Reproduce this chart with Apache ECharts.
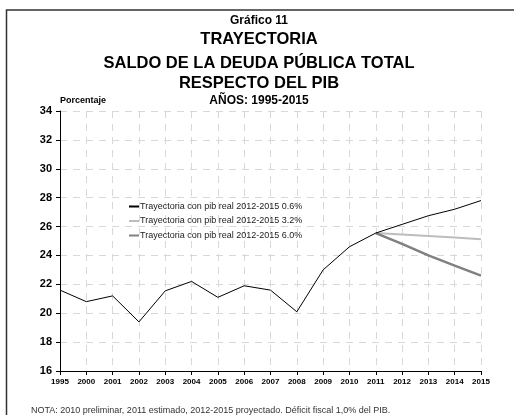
<!DOCTYPE html>
<html>
<head>
<meta charset="utf-8">
<script src="https://cdn.jsdelivr.net/npm/echarts@6/dist/echarts.min.js"></script>
<style>
  html, body { margin: 0; padding: 0; background: #fff; }
  #chart { width: 514px; height: 415px; }
</style>
</head>
<body>
<div id="chart"></div>
<script>
// years on the x axis
const years = ['1995', '2000', '2001', '2002', '2003', '2004', '2005', '2006', '2007', '2008',
  '2009', '2010', '2011', '2012', '2013', '2014', '2015']

// debt / GDP (%) trajectories
const pib06 = [21.6, 20.8, 21.2, 19.4, 21.55, 22.2, 21.1, 21.9, 21.6, 20.1,
  23.0, 24.6, 25.55, 26.15, 26.75, 27.2, 27.8]
const pib32 = [null, null, null, null, null, null, null, null, null, null,
  null, null, 25.55, 25.45, 25.35, 25.25, 25.12]
const pib60 = [null, null, null, null, null, null, null, null, null, null,
  null, null, 25.55, 24.8, 24.0, 23.3, 22.6]

const names = [
  'Trayectoria con pib real 2012-2015 0.6%',
  'Trayectoria con pib real 2012-2015 3.2%',
  'Trayectoria con pib real 2012-2015 6.0%'
]

const font = 'Liberation Sans, Arial, sans-serif'
const chart = echarts.init(document.getElementById('chart'))

const titleText = (text, y, size) => ({
  type: 'text',
  x: 259,
  y: y,
  style: {
    text: text,
    fill: '#000',
    font: 'bold ' + size + 'px ' + font,
    textAlign: 'center',
    textVerticalAlign: 'middle'
  }
})

const option = {
  animation: false,
  textStyle: { fontFamily: font },
  grid: { left: 60, right: 33, top: 111, bottom: 44 },
  legend: {
    orient: 'vertical',
    left: 124,
    top: 197,
    icon: 'rect',
    itemWidth: 10,
    itemHeight: 2,
    itemGap: 5.5,
    textStyle: { fontSize: 9, color: '#222', padding: [0, 0, 0, -4] },
    data: names
  },
  xAxis: {
    type: 'category',
    data: years,
    boundaryGap: false,
    axisLine: { lineStyle: { color: '#000', width: 1 } },
    axisTick: { length: 4, lineStyle: { color: '#000' } },
    axisLabel: { color: '#000', fontSize: 8, fontWeight: 'bold', margin: 7, interval: 0 },
    splitLine: { show: true, lineStyle: { color: '#d8d8d8', type: [7, 6] } }
  },
  yAxis: {
    type: 'value',
    min: 16,
    max: 34,
    interval: 2,
    axisLine: { show: true, lineStyle: { color: '#000', width: 1 } },
    axisTick: { show: true, length: 4, lineStyle: { color: '#000' } },
    axisLabel: { color: '#000', fontSize: 11, fontWeight: 'bold', margin: 8 },
    splitLine: { show: true, lineStyle: { color: '#d8d8d8', type: [7, 6] } }
  },
  series: [
    {
      name: names[0], type: 'line', data: pib06, symbol: 'none', z: 5,
      lineStyle: { color: '#000', width: 1 }, itemStyle: { color: '#000' }
    },
    {
      name: names[1], type: 'line', data: pib32, symbol: 'none', z: 3,
      lineStyle: { color: '#bdbdbd', width: 2 }, itemStyle: { color: '#bdbdbd' }
    },
    {
      name: names[2], type: 'line', data: pib60, symbol: 'none', z: 4,
      lineStyle: { color: '#808080', width: 2.5 }, itemStyle: { color: '#808080' }
    }
  ],
  graphic: [
    {
      type: 'rect',
      shape: { x: 6.5, y: 10, width: 600, height: 500 },
      style: { fill: 'none', stroke: '#333', lineWidth: 1.5 },
      z: -1
    },
    titleText('Gráfico 11', 21, 12),
    titleText('TRAYECTORIA', 39, 16.5),
    titleText('SALDO DE LA DEUDA PÚBLICA TOTAL', 63, 16.5),
    titleText('RESPECTO DEL PIB', 83, 16.5),
    titleText('AÑOS: 1995-2015', 101, 12),
    {
      type: 'text', x: 60, y: 101,
      style: { text: 'Porcentaje', fill: '#000', font: 'bold 9px ' + font, textVerticalAlign: 'middle' }
    },
    {
      type: 'text', x: 31, y: 406,
      style: {
        text: 'NOTA: 2010 preliminar, 2011 estimado, 2012-2015 proyectado. Déficit fiscal 1,0% del PIB.',
        fill: '#333', font: '9px ' + font
      }
    }
  ]
}

chart.setOption(option)
</script>
</body>
</html>
